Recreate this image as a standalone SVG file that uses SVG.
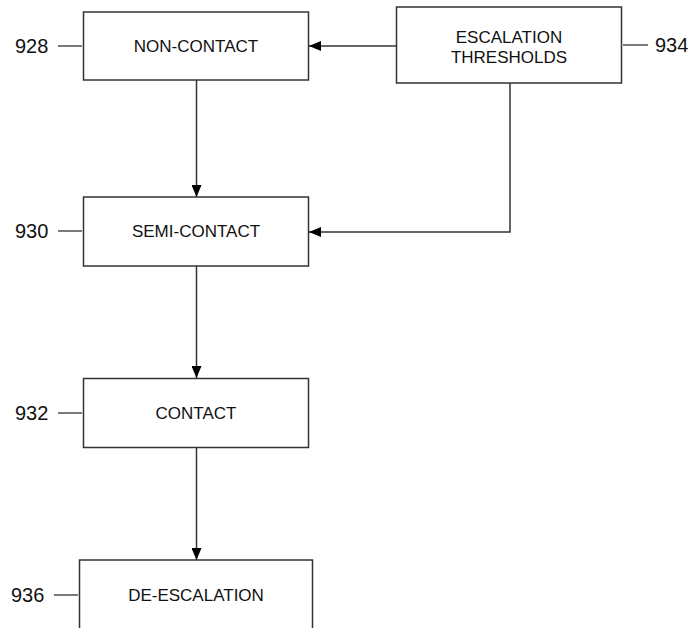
<svg xmlns="http://www.w3.org/2000/svg" width="696" height="628" viewBox="0 0 696 628">
<defs>
<style>
.box{fill:#fff;stroke:#333;stroke-width:1.5}
.t{font-family:"Liberation Sans",Arial,sans-serif;font-size:17px;fill:#111;text-anchor:middle;dominant-baseline:central}
.lbl{font-family:"Liberation Sans",Arial,sans-serif;font-size:20px;fill:#111;dominant-baseline:central}
.lead{stroke:#333;stroke-width:1.3;fill:none}
.con{stroke:#333;stroke-width:1.5;fill:none;marker-end:url(#ah)}
</style>
<marker id="ah" viewBox="0 0 12 10" refX="12" refY="5" markerWidth="12" markerHeight="10" markerUnits="userSpaceOnUse" orient="auto">
<path d="M0,0 L12,5 L0,10 Z" fill="#000"/>
</marker>
</defs>
<g id="connectors">
<path class="con" d="M396,46 H309"/>
<path class="con" d="M510,83 V232 H309"/>
<path class="con" d="M196.5,80 V197"/>
<path class="con" d="M196.5,266 V378"/>
<path class="con" d="M196.5,447 V560"/>
</g>
<g id="n928">
<rect class="box" x="83.5" y="12" width="225" height="68"/>
<text class="t" x="196" y="46">NON-CONTACT</text>
<path class="lead" d="M58,46 H82"/>
<text class="lbl" x="15" y="46">928</text>
</g>
<g id="n934">
<rect class="box" x="396.5" y="7" width="225" height="76"/>
<text class="t" x="509" y="37">ESCALATION</text>
<text class="t" x="509" y="57">THRESHOLDS</text>
<path class="lead" d="M623,45 H648"/>
<text class="lbl" x="655" y="45">934</text>
</g>
<g id="n930">
<rect class="box" x="83.5" y="197" width="225" height="69"/>
<text class="t" x="196" y="231">SEMI-CONTACT</text>
<path class="lead" d="M58,231 H82"/>
<text class="lbl" x="15" y="231">930</text>
</g>
<g id="n932">
<rect class="box" x="83.5" y="378.5" width="225" height="69"/>
<text class="t" x="196" y="413">CONTACT</text>
<path class="lead" d="M58,413 H82"/>
<text class="lbl" x="15" y="413">932</text>
</g>
<g id="n936">
<rect class="box" x="79.5" y="560" width="233" height="80"/>
<text class="t" x="196" y="595">DE-ESCALATION</text>
<path class="lead" d="M54,595 H78"/>
<text class="lbl" x="11" y="595">936</text>
</g>
</svg>
